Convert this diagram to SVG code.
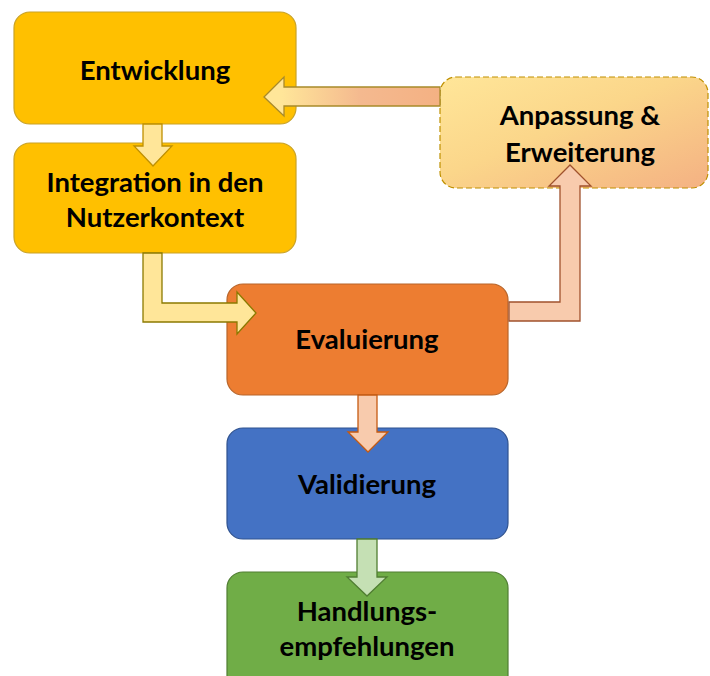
<svg xmlns="http://www.w3.org/2000/svg" width="710" height="676" viewBox="0 0 710 676">
  <defs>
    <linearGradient id="gradAnpassung" x1="0" y1="0" x2="1" y2="1">
      <stop offset="0" stop-color="#FFE699"/>
      <stop offset="0.45" stop-color="#FBD68A"/>
      <stop offset="1" stop-color="#F4B183"/>
    </linearGradient>
    <linearGradient id="gradBack" gradientUnits="userSpaceOnUse" x1="264" y1="0" x2="440" y2="0">
      <stop offset="0.1" stop-color="#FFE699"/>
      <stop offset="0.55" stop-color="#F4B98F"/>
      <stop offset="1" stop-color="#F4B183"/>
    </linearGradient>
  </defs>
  <style>
    .box { stroke-width: 1.2; }
    .lbl { font-family: Lato, "Open Sans", "Liberation Sans", sans-serif; font-weight: bold; font-size: 27.5px; fill: #000; text-anchor: middle; }
    .arrow { stroke-width: 1.3; stroke-linejoin: miter; }
  </style>
  <rect width="710" height="676" fill="#FFFFFF"/>

  <g id="entwicklung">
    <rect class="box" x="14" y="12" width="282" height="112" rx="16" fill="#FFC000" stroke="#C9A227"/>
    <text class="lbl" x="155" y="80">Entwicklung</text>
  </g>

  <g id="integration">
    <rect class="box" x="14" y="143" width="282" height="110" rx="16" fill="#FFC000" stroke="#C9A227"/>
    <text class="lbl" x="155" y="192">Integration in den</text>
    <text class="lbl" x="155" y="227">Nutzerkontext</text>
  </g>

  <g id="anpassung">
    <rect class="box" x="440" y="77" width="268" height="111" rx="16" fill="url(#gradAnpassung)" stroke="#BF9000" stroke-dasharray="6 3"/>
    <text class="lbl" x="580" y="125">Anpassung &amp;</text>
    <text class="lbl" x="580" y="162">Erweiterung</text>
  </g>

  <g id="evaluierung">
    <rect class="box" x="227" y="284" width="281" height="111" rx="16" fill="#ED7D31" stroke="#B8652A"/>
    <text class="lbl" x="367" y="349">Evaluierung</text>
  </g>

  <g id="validierung">
    <rect class="box" x="227" y="428" width="281" height="111" rx="16" fill="#4472C4" stroke="#2F528F"/>
    <text class="lbl" x="367" y="494">Validierung</text>
  </g>

  <g id="handlungsempfehlungen">
    <rect class="box" x="227" y="572" width="281" height="120" rx="16" fill="#70AD47" stroke="#507E32"/>
    <text class="lbl" x="367" y="621">Handlungs-</text>
    <text class="lbl" x="367" y="656">empfehlungen</text>
  </g>

  <g id="connectors">
    <!-- Entwicklung -> Integration -->
    <path class="arrow" d="M143,124 H162 V146 H172 L153,166 L134,146 H143 Z" fill="#FFE699" stroke="#BF9000"/>
    <!-- Integration -> Evaluierung (elbow) -->
    <path class="arrow" d="M143,253 H162 V303 H237 V292 L256,313 L237,334 V322 H143 Z" fill="#FFE699" stroke="#8C7A00"/>
    <!-- Evaluierung -> Anpassung (elbow up) -->
    <path class="arrow" d="M509,302 H560 V186 H549 L570,165 L591,186 H580 V321 H509 Z" fill="#F8CBAD" stroke="#A0522D"/>
    <!-- Anpassung -> Entwicklung -->
    <path class="arrow" d="M440,87 V106 H284 V116 L264,97 L284,77 V87 Z" fill="url(#gradBack)" stroke="#A88A2A"/>
    <!-- Evaluierung -> Validierung -->
    <path class="arrow" d="M358,395 H377 V432 H388 L368,452 L348,432 H358 Z" fill="#F8CBAD" stroke="#C55A11"/>
    <!-- Validierung -> Handlungsempfehlungen -->
    <path class="arrow" d="M357,539 H377 V577 H387 L367,596 L347,577 H357 Z" fill="#C5E0B4" stroke="#507E32"/>
  </g>
</svg>
